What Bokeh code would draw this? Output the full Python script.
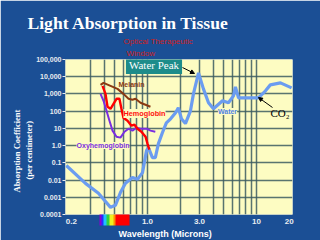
from bokeh.plotting import figure
from bokeh.models import (FixedTicker, Label, Arrow, NormalHead, Range1d, ColorBar, LinearColorMapper, Title)
from bokeh.embed import file_html
from bokeh.resources import INLINE

# ---------------- data ----------------
water_wl = [0.18, 0.27, 0.355, 0.458, 0.508, 0.565, 0.628, 0.728, 0.81, 0.90, 0.98, 1.02,
            1.11, 1.18, 1.26, 1.37, 1.49, 1.63, 1.81, 1.92, 2.05, 2.23, 2.48, 2.64, 2.94,
            3.26, 3.63, 4.03, 4.88, 5.53, 6.15, 6.41, 6.84, 10.4, 12.1, 13.4, 16.6, 21.0]
water_mu = [0.07, 0.0064, 0.0017, 0.00026, 0.00034, 0.0019, 0.0065, 0.014, 0.011, 0.027, 0.51, 0.77,
            0.20, 0.20, 1.3, 5.6, 21, 36, 81, 157, 36, 19, 105, 1010, 16600,
            1970, 306, 138, 400, 306, 776, 2570, 595, 595, 1510, 3360, 4390, 2250]

hemo_wl = [0.387, 0.412, 0.43, 0.458, 0.488, 0.52, 0.553, 0.577, 0.602, 0.656, 0.713, 0.76,
           0.81, 0.88, 0.96, 1.0, 1.04]
hemo_mu = [2940, 1010, 180, 138, 268, 521, 521, 138, 41.5, 27.9, 14.3, 16.4,
           9.6, 6.4, 3.3, 1.3, 0.59]

oxy_wl = [0.371, 0.395, 0.421, 0.448, 0.478, 0.52, 0.565, 0.615, 0.67, 0.728, 0.793, 0.863,
          0.982, 1.065, 1.18]
oxy_mu = [1010, 400, 105, 27.9, 7.4, 3.3, 2.9, 6.4, 9.6, 7.4, 11, 9.6,
          9.6, 7.4, 6.4]

mel_wl = [0.371, 0.395, 0.458, 0.531, 0.602, 0.67, 0.728, 0.776, 0.863, 1.065]
mel_mu = [3360, 4390, 2940, 1970, 1010, 521, 456, 521, 306, 180]

x_ticks = [0.2, 1.0, 3.0, 10.0, 20.0]
x_tick_labels = ["0.2", "1.0", "3.0", "10", "20"]
y_ticks = [1e-4, 1e-3, 1e-2, 1e-1, 1, 10, 100, 1000, 10000, 100000]
y_tick_labels = ["0.0001", "0.001", "0.01", "0.1", "1.0", "10", "100", "1,000", "10,000", "100,000"]
grid_x = [0.3, 0.4, 0.5, 0.6, 0.7, 0.8, 0.9, 1, 2, 3, 4, 5, 6, 7, 8, 9, 10]
grid_y = [1e-3, 1e-2, 1e-1, 1, 10, 100, 1000, 10000]

# visible spectrum strip under the axis (violet -> red), relative widths
spec_colors = ["#8a00d0", "#2030ff", "#20c0ff", "#30d040", "#f0f020", "#ff9000", "#ff0000"]
spec_widths = [2, 2, 3, 3, 4, 2, 14]

W, H = 320, 240
p = figure(width=W, height=H, x_axis_type="log", y_axis_type="log",
           x_range=Range1d(0.177, 21.4), y_range=Range1d(1e-4, 1e5),
           output_backend="svg", toolbar_location=None,
           min_border_left=65, min_border_right=28, min_border_top=59, min_border_bottom=26)
p.background_fill_color = "#fdfcc2"
p.border_fill_color = "#1b4f95"
p.outline_line_color = None

# grid
p.xgrid.ticker = FixedTicker(ticks=grid_x)
p.ygrid.ticker = FixedTicker(ticks=grid_y)
for g in (p.xgrid, p.ygrid):
    g.grid_line_color = "#3c5c60"
    g.grid_line_width = 1.5
    g.grid_line_alpha = 0.85

# axes
p.xaxis.ticker = FixedTicker(ticks=x_ticks)
p.xaxis.major_label_overrides = {t: l for t, l in zip(x_ticks, x_tick_labels)}
p.yaxis.ticker = FixedTicker(ticks=y_ticks)
p.yaxis.major_label_overrides = {t: l for t, l in zip(y_ticks, y_tick_labels)}
for ax in (p.xaxis, p.yaxis):
    ax.axis_line_color = None
    ax.minor_tick_line_color = None
    ax.major_label_text_color = "#e8ecf0"
    ax.major_label_text_font = "Liberation Sans"
    ax.major_label_text_font_style = "bold"
p.xaxis.major_tick_line_color = None
p.xaxis.major_tick_out = 0
p.xaxis.major_tick_in = 0
p.xaxis.major_label_text_font_size = "8px"
p.xaxis.major_label_standoff = 4
p.yaxis.major_tick_line_color = "#e8ecf0"
p.yaxis.major_tick_out = 3
p.yaxis.major_tick_in = 0
p.yaxis.major_label_text_font_size = "7px"
p.yaxis.major_label_standoff = 1

# titles placed in the side panels (annotations in the centre are clipped to the frame)
p.add_layout(Title(text="Window", align="left", offset=61, standoff=3, text_font="Liberation Sans",
                   text_font_size="8px", text_font_style="normal", text_color="#d02020"), "above")
p.add_layout(Title(text="Optical Therapeutic", align="left", offset=58, standoff=0, text_font="Liberation Sans",
                   text_font_size="8px", text_font_style="normal", text_color="#d02020"), "above")
p.add_layout(Title(text="Light Absorption in Tissue", align="left", offset=-38, standoff=4,
                   text_font="Liberation Serif", text_font_size="17.6px", text_font_style="bold",
                   text_color="white"), "above")
p.add_layout(Title(text="(per centimeter)", align="left", offset=35, standoff=0, text_font="Liberation Serif",
                   text_font_size="8.5px", text_font_style="bold", text_color="white"), "left")
p.add_layout(Title(text="Absorption Coefficient", align="left", offset=22, standoff=0, text_font="Liberation Serif",
                   text_font_size="8.5px", text_font_style="bold", text_color="white"), "left")
p.add_layout(Title(text="Wavelength (Microns)", align="left", offset=53, standoff=0, text_font="Liberation Sans",
                   text_font_size="9px", text_font_style="bold", text_color="white"), "below")

# spectrum strip as a colour bar below the axis
palette = [c for c, w in zip(spec_colors, spec_widths) for _ in range(w)]
cb = ColorBar(color_mapper=LinearColorMapper(palette=palette, low=0.38, high=0.75),
              orientation="horizontal", width=30, height=11, location=(34, -11),
              padding=0, ticker=FixedTicker(ticks=[]), major_label_text_font_size="0px",
              major_tick_line_color=None, minor_tick_line_color=None, bar_line_color=None,
              border_line_color=None, background_fill_alpha=0)
p.add_layout(cb, "center")

# curves
p.line(water_wl, water_mu, line_color="#6b9cf0", line_width=3.2)
p.line(mel_wl, mel_mu, line_color="#8b3a12", line_width=2)
p.line(oxy_wl, oxy_mu, line_color="#7a2ee0", line_width=2)
p.line(hemo_wl, hemo_mu, line_color="#ff0000", line_width=2.4)

FL, FB = 65, 214  # frame left / bottom in canvas pixels (screen units are frame-relative)

def lab(text, X, Y, **kw):
    d = dict(x=X - FL, y=FB - Y, x_units="screen", y_units="screen", text=text)
    d.update(kw)
    p.add_layout(Label(**d))

def arrow(X0, Y0, X1, Y1):
    p.add_layout(Arrow(x_start=X0 - FL, y_start=FB - Y0, x_end=X1 - FL, y_end=FB - Y1,
                       start_units="screen", end_units="screen", line_color="black", line_width=1,
                       end=NormalHead(size=4, fill_color="black", line_color="black")))

# water peak box
lab("Water Peak", 153.5, 64.5, text_font="Liberation Serif", text_font_size="11px",
    text_color="white", text_align="center", text_baseline="middle",
    background_fill_color="#1d8c8a", padding=3)
arrow(182, 67, 194, 73)

# curve labels
lab("Melanin", 131, 84, text_font="Liberation Sans", text_font_style="bold", text_font_size="7px",
    text_color="#8b3a12", text_align="center", text_baseline="middle")
lab("Hemoglobin", 144, 113, text_font="Liberation Sans", text_font_style="bold", text_font_size="7.3px",
    text_color="#ff1010", text_align="center", text_baseline="middle",
    background_fill_color="#fdfcc2")
lab("Oxyhemoglobin", 102.5, 145, text_font="Liberation Sans", text_font_style="bold", text_font_size="7px",
    text_color="#7a2ee0", text_align="center", text_baseline="middle",
    background_fill_color="#fdfcc2")
lab("Water", 227, 111, text_font="Liberation Sans", text_font_style="bold", text_font_size="7px",
    text_color="#4f82e6", text_align="center", text_baseline="middle",
    background_fill_color="#fdfcc2")
lab("CO₂", 270, 112, text_font="Liberation Serif", text_font_size="11px",
    text_color="black", text_align="left", text_baseline="middle")
arrow(272, 107, 258, 97)

open("out.html", "w").write(file_html(p, INLINE))
